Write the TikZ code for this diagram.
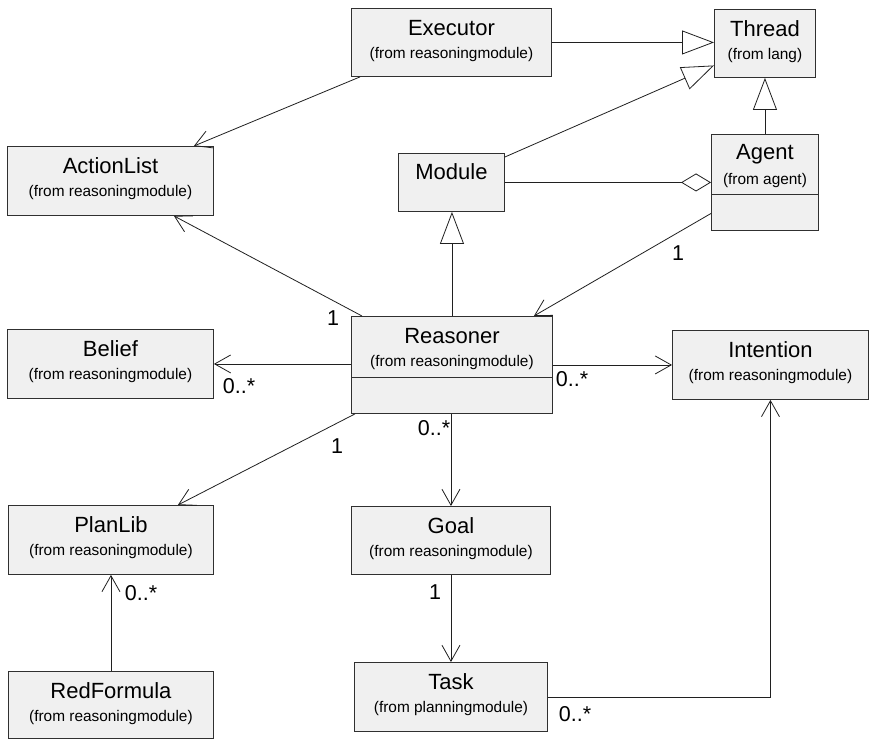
\documentclass[tikz,border=0pt]{standalone}
\usepackage{fontspec}
\setmainfont{Liberation Sans}
\usetikzlibrary{arrows.meta}
\definecolor{boxfill}{HTML}{F0F0F0}
\definecolor{boxline}{HTML}{303030}
\definecolor{linkcol}{HTML}{202020}

% class box: name, top-left corner, width, height, title, package line
\newcommand\classbox[6]{%
  \node[cls, minimum width=#3pt, minimum height=#4pt] (#1) at (#2) {};
  \node[cname] (#1-name) at ([yshift=-20pt]#1.north) {#5};
  \node[csub] (#1-sub) at ([yshift=-47pt]#1.north) {#6};
}

\begin{document}
\begin{tikzpicture}[x=1pt,y=-1pt,
  cls/.style={draw=boxline, fill=boxfill, line width=0.9pt, inner sep=0pt, anchor=north west},
  cname/.style={font=\fontsize{22}{22}\selectfont, inner sep=0pt},
  csub/.style={font=\fontsize{15.4}{15.4}\selectfont, inner sep=0pt},
  mult/.style={font=\fontsize{21.5}{21.5}\selectfont, inner sep=0pt},
  link/.style={line width=0.8pt, draw=linkcol},
  assoc/.style={link, -{Straight Barb[length=16pt,width=18pt,line width=0.8pt]}},
  gen/.style={link, -{Triangle[open,length=32pt,width=24pt,fill=white]}},
  aggr/.style={link, -{Diamond[open,length=30pt,width=18pt,fill=white]}},
]
\fill[white] (0,0) rectangle (869,739);
\useasboundingbox (0,0) rectangle (869,739);

% classes
\classbox{exec}{351,8}{200}{68}{Executor}{(from reasoningmodule)}
\classbox{thread}{714,9}{101}{68}{Thread}{(from lang)}
\classbox{agent}{711,134}{107}{96}{Agent}{(from agent)}
\draw[line width=0.9pt, draw=boxline] ([yshift=-60pt]agent.north west) -- ([yshift=-60pt]agent.north east);

\node[cls, minimum width=106pt, minimum height=58pt] (module) at (398,153) {};
\node[cname] (module-name) at ([yshift=-19pt]module.north) {Module};

\classbox{al}{7,146}{206}{69}{ActionList}{(from reasoningmodule)}
\classbox{belief}{7,329}{206}{69}{Belief}{(from reasoningmodule)}
\classbox{reas}{351,316}{201}{97}{Reasoner}{(from reasoningmodule)}
\draw[line width=0.9pt, draw=boxline] ([yshift=-61pt]reas.north west) -- ([yshift=-61pt]reas.north east);
\classbox{intent}{672,330}{196}{69}{Intention}{(from reasoningmodule)}
\classbox{plan}{8,505}{205}{69}{PlanLib}{(from reasoningmodule)}
\classbox{goal}{351,506}{199}{68}{Goal}{(from reasoningmodule)}
\classbox{redf}{8,671}{205}{67}{RedFormula}{(from reasoningmodule)}
\classbox{task}{354,662}{193}{69}{Task}{(from planningmodule)}

% generalisations
\draw[gen] (exec.east) -- (exec.east -| thread.west);
\draw[gen] ([yshift=-4pt]module.north east) -- ([yshift=-22pt]thread.west);
\draw[gen] (agent.north) -- (thread.south);
\draw[gen] (reas.north) -- (reas.north |- module.south);

% aggregation
\draw[aggr] (module.east) -- (module.east -| agent.west);

% associations
\draw[assoc] ([yshift=-31pt]agent.west) -- ([xshift=-19pt]reas.north east);
\draw[assoc] ([xshift=11pt]reas.north west) -- ([xshift=-40pt]al.south east);
\draw[assoc] ([xshift=9pt]exec.south west) -- ([xshift=-20pt]al.north east);
\draw[assoc] (reas.west |- belief.east) -- (belief.east);
\draw[assoc] (reas.east |- intent.west) -- (intent.west);
\draw[assoc] ([xshift=4pt]reas.south west) -- ([xshift=-36pt]plan.north east);
\draw[assoc] (reas.south -| goal.north) -- (goal.north);
\draw[assoc] (goal.south) -- (goal.south |- task.north);
\draw[assoc] (task.east) -| (intent.south);
\draw[assoc] (redf.north) -- (redf.north |- plan.south);

% multiplicities
\node[mult] (m1) at (678,253) {1};
\node[mult] (m2) at (333,318) {1};
\node[mult] (m3) at (239,386) {0..*};
\node[mult] (m4) at (572,379) {0..*};
\node[mult] (m5) at (337,446) {1};
\node[mult] (m6) at (434,428) {0..*};
\node[mult] (m7) at (435,592) {1};
\node[mult] (m8) at (575,714) {0..*};
\node[mult] (m9) at (141,593) {0..*};
\end{tikzpicture}
\end{document}
